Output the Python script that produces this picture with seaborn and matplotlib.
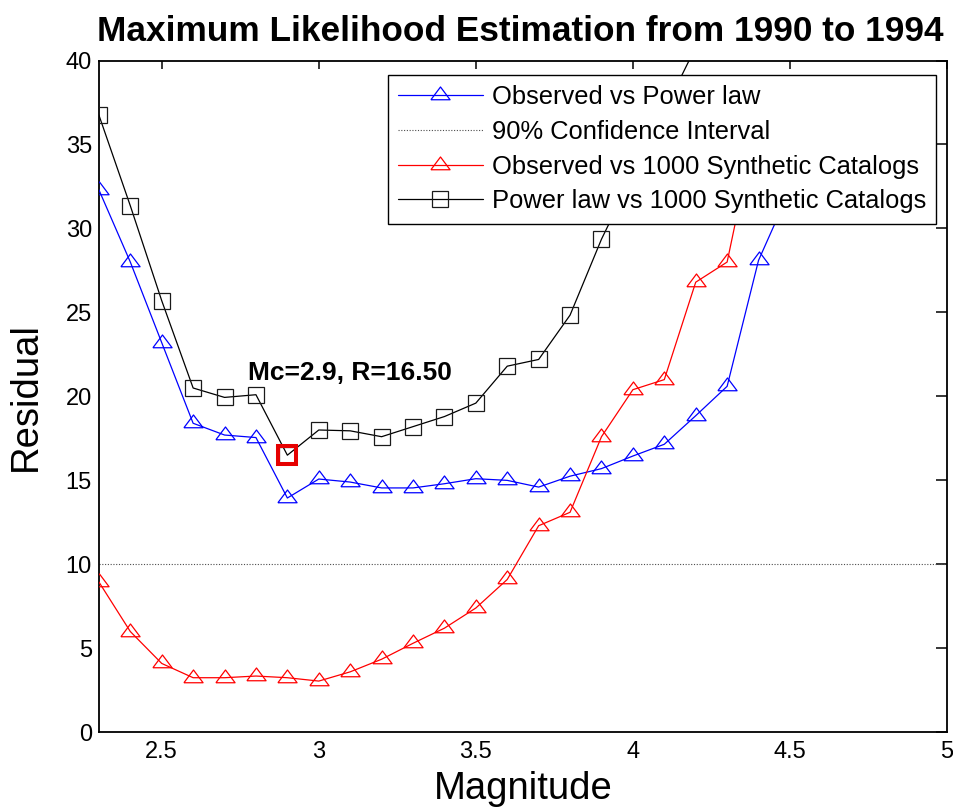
import numpy as np
import pandas as pd
import matplotlib
matplotlib.use("Agg")
import matplotlib.pyplot as plt
import seaborn as sns

# ---- data ----
mag_blue = [2.3, 2.4, 2.5, 2.6, 2.7, 2.8, 2.9, 3.0, 3.1, 3.2, 3.3, 3.4, 3.5, 3.6,
            3.7, 3.8, 3.9, 4.0, 4.1, 4.2, 4.3, 4.4, 4.5]
obs_vs_power = [32.3, 28.0, 23.2, 18.4, 17.7, 17.55, 13.95, 15.08, 14.9, 14.55, 14.55,
                14.8, 15.1, 15.0, 14.6, 15.25, 15.7, 16.45, 17.15, 18.85, 20.6, 28.1,
                32.3]

mag_red = [2.3, 2.4, 2.5, 2.6, 2.7, 2.8, 2.9, 3.0, 3.1, 3.2, 3.3, 3.4, 3.5, 3.6,
           3.7, 3.8, 3.9, 4.0, 4.1, 4.2, 4.3, 4.4]
obs_vs_synth = [8.95, 6.0, 4.1, 3.25, 3.25, 3.35, 3.25, 3.05, 3.6, 4.35, 5.3, 6.2,
                7.4, 9.1, 12.3, 13.1, 17.6, 20.4, 21.0, 26.8, 28.0, 36.9]

mag_black = [2.3, 2.4, 2.5, 2.6, 2.7, 2.8, 2.9, 3.0, 3.1, 3.2, 3.3, 3.4, 3.5, 3.6,
             3.7, 3.8, 3.9, 4.0, 4.1, 4.2]
power_vs_synth = [36.75, 31.35, 25.7, 20.5, 19.94, 20.1, 16.5, 18.0, 17.95, 17.6, 18.2,
                  18.8, 19.6, 21.8, 22.2, 24.84, 29.36, 33.2, 37.0, 40.8]

conf_level = 10
best_mc = 2.9
best_r = 16.50

labels = ["Observed vs Power law", "90% Confidence Interval",
          "Observed vs 1000 Synthetic Catalogs", "Power law vs 1000 Synthetic Catalogs"]
title = "Maximum Likelihood Estimation from 1990 to 1994"
xticks = [2.5, 3, 3.5, 4, 4.5, 5]
xticklabels = ["2.5", "3", "3.5", "4", "4.5", "5"]
yticks = [0, 5, 10, 15, 20, 25, 30, 35, 40]

# ---- style ----
sns.set_style("white")
plt.rcParams["font.family"] = ["Liberation Sans", "DejaVu Sans"]
plt.rcParams["text.color"] = "k"
plt.rcParams["axes.labelcolor"] = "k"
plt.rcParams["xtick.color"] = "k"
plt.rcParams["ytick.color"] = "k"

fig = plt.figure(figsize=(9.54, 8.08), dpi=100)
ax = fig.add_axes([98.9 / 954, 75.7 / 808, (947 - 98.9) / 954, (732.3 - 60.5) / 808])

tri = [(-1, -0.444), (1, -0.444), (0, 0.889), (-1, -0.444)]
ms_tri = 13.8

sns.lineplot(x=mag_blue, y=obs_vs_power, ax=ax, color=(0, 0, 1), lw=0.9,
             marker=tri, markersize=ms_tri, markerfacecolor="none",
             markeredgecolor=(0, 0, 1), markeredgewidth=0.9,
             label=labels[0], zorder=3)
ax.axhline(conf_level, color="0.3", lw=0.8, ls=(0, (1, 1.5)), label=labels[1], zorder=2)
sns.lineplot(x=mag_red, y=obs_vs_synth, ax=ax, color=(1, 0, 0), lw=0.9,
             marker=tri, markersize=ms_tri, markerfacecolor="none",
             markeredgecolor=(1, 0, 0), markeredgewidth=0.9,
             label=labels[2], zorder=4)
sns.lineplot(x=mag_black, y=power_vs_synth, ax=ax, color="k", lw=0.9,
             marker="s", markersize=11, markerfacecolor="none",
             markeredgecolor="0.1", markeredgewidth=0.9,
             label=labels[3], zorder=5)

# highlight best point
ax.plot([best_mc], [best_r], marker="s", markersize=13.5, markerfacecolor="none",
        markeredgecolor=(0.9, 0, 0), markeredgewidth=2.9, ls="none", zorder=6)
ax.text(2.775, 21.0, f"Mc={best_mc}, R={best_r:.2f}", fontsize=19,
        fontweight="bold", ha="left", va="baseline", zorder=7)

ax.set_xlim(2.3, 5)
ax.set_ylim(0, 40)
ax.set_xticks(xticks)
ax.set_xticklabels(xticklabels)
ax.set_yticks(yticks)

for s in ax.spines.values():
    s.set_visible(True)
    s.set_color("k")
    s.set_linewidth(1.3)

ax.tick_params(axis="both", which="major", direction="in", top=True, right=True,
               labelsize=17, width=1.1, color="k")
ax.tick_params(axis="x", length=6, pad=6)
ax.tick_params(axis="y", length=8, pad=5)

ax.set_xlabel("Magnitude", fontsize=27.5, labelpad=6)
ax.set_ylabel("Residual", fontsize=27.5, labelpad=16)
ax.set_title(title, fontsize=25.4, fontweight="bold", pad=14)
ax.title.set_x(0.4965)

leg = ax.legend(loc="upper right", bbox_to_anchor=((936 - 98.9) / 848.1, (732.3 - 75) / 671.8),
                borderaxespad=0, fontsize=18.4, frameon=True, fancybox=False,
                edgecolor="k", framealpha=1, borderpad=0.4, handlelength=3.3,
                handletextpad=0.35, labelspacing=0.42)
leg.get_frame().set_linewidth(1.0)
leg.set_zorder(10)

fig.savefig("out.png", dpi=100, facecolor="white")
